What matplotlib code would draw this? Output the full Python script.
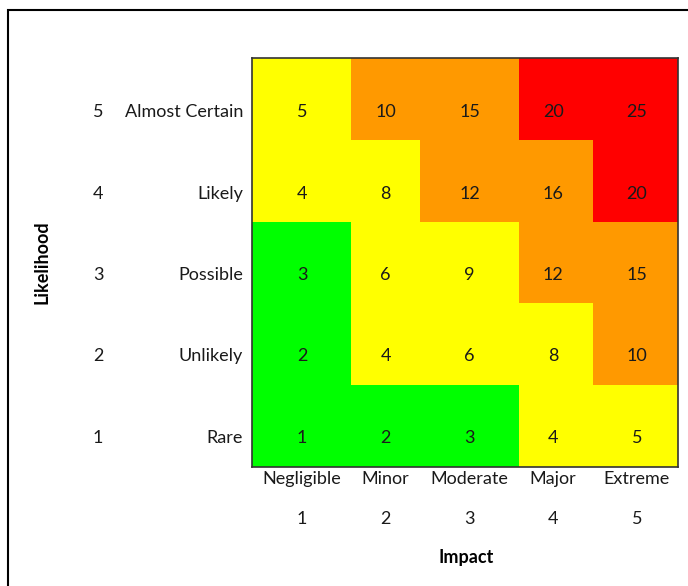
import matplotlib.pyplot as plt
from matplotlib.colors import ListedColormap
from matplotlib.patches import Rectangle
import matplotlib.transforms as mtransforms

plt.rcParams['font.family'] = ['Lato', 'DejaVu Sans']

impact_labels = ['Negligible', 'Minor', 'Moderate', 'Major', 'Extreme']
impact_levels = [1, 2, 3, 4, 5]
likelihood_labels = ['Rare', 'Unlikely', 'Possible', 'Likely', 'Almost Certain']
likelihood_levels = [1, 2, 3, 4, 5]

# scores, bottom row (Rare) first
scores = [
    [1, 2, 3, 4, 5],
    [2, 4, 6, 8, 10],
    [3, 6, 9, 12, 15],
    [4, 8, 12, 16, 20],
    [5, 10, 15, 20, 25],
]
# 0 = low (green), 1 = medium (yellow), 2 = high (orange), 3 = extreme (red)
categories = [
    [0, 0, 0, 1, 1],
    [0, 1, 1, 1, 2],
    [0, 1, 1, 2, 2],
    [1, 1, 2, 2, 3],
    [1, 2, 2, 3, 3],
]
category_colors = ['#00FF00', '#FFFF00', '#FF9900', '#FF0000']

# band edges of the coloured zones (in impact / likelihood units)
impact_edges = [0.403, 1.585, 2.409, 3.591, 4.475, 5.49]
likelihood_edges = [0.644, 1.65, 2.656, 3.65, 4.656, 5.663]

fig = plt.figure(figsize=(6.88, 5.86), dpi=100)
ax = fig.add_axes([252 / 688, 1 - 467 / 586, 426 / 688, 409 / 586])

cmap = ListedColormap(category_colors)
ax.pcolormesh(impact_edges, likelihood_edges, categories, cmap=cmap, vmin=-0.5, vmax=3.5)
ax.set_xlim(impact_edges[0], impact_edges[-1])
ax.set_ylim(likelihood_edges[0], likelihood_edges[-1])

for r, row in enumerate(scores):
    for c, val in enumerate(row):
        ax.text(impact_levels[c], likelihood_levels[r], str(val), ha='center', va='center',
                fontsize=13, color='#1a1a1a')

for s in ax.spines.values():
    s.set_color('#333333')
    s.set_linewidth(1.2)
ax.set_xticks([])
ax.set_yticks([])

# row labels
ytrans = mtransforms.blended_transform_factory(fig.transFigure, ax.transData)
for lvl, lab in zip(likelihood_levels, likelihood_labels):
    ax.text(98 / 688, lvl, str(lvl), transform=ytrans, ha='center', va='center', fontsize=13, color='#1a1a1a')
    ax.text(243 / 688, lvl, lab, transform=ytrans, ha='right', va='center', fontsize=13, color='#1a1a1a')

# column labels
xtrans = mtransforms.blended_transform_factory(ax.transData, fig.transFigure)
for lvl, lab in zip(impact_levels, impact_labels):
    ax.text(lvl, 1 - 479 / 586, lab, transform=xtrans, ha='center', va='center', fontsize=13, color='#1a1a1a')
    ax.text(lvl, 1 - 519 / 586, str(lvl), transform=xtrans, ha='center', va='center', fontsize=13, color='#1a1a1a')

fig.text(466 / 688, 1 - 557 / 586, 'Impact', ha='center', va='center', fontsize=13, fontweight='bold')
fig.text(42 / 688, 1 - 262 / 586, 'Likelihood', ha='center', va='center', fontsize=13, fontweight='bold', rotation=90)

# outer frame
fig.add_artist(Rectangle((8 / 688, -0.1), 1.2, 1 - 10 / 586 + 0.1, transform=fig.transFigure,
                         fill=False, edgecolor='black', linewidth=1.5))

fig.savefig('out.png', dpi=100)
